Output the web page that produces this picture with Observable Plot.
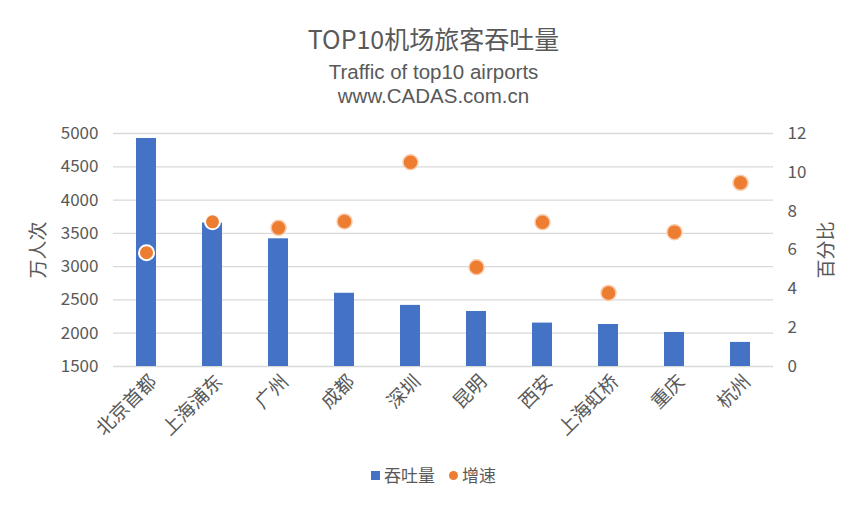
<!DOCTYPE html>
<html><head><meta charset="utf-8">
<script src="https://cdn.jsdelivr.net/npm/d3@7"></script>
<script src="https://cdn.jsdelivr.net/npm/@observablehq/plot@0.6"></script>
<style>
body{margin:0;background:#fff;font-family:"Noto Sans CJK SC","Noto Sans",sans-serif;color:#595959}
#wrap{position:relative;width:867px;height:507px;overflow:hidden}
.t{position:absolute;left:0;width:867px;text-align:center;white-space:nowrap}
#chart,#chart2{position:absolute;left:0;top:110px}
#legend{position:absolute;left:0;top:462px;width:867px;text-align:center;font-size:17px;color:#595959}
.sw{display:inline-block;width:9px;height:9px;margin-right:4px;vertical-align:middle;position:relative;top:-2px}
</style></head>
<body><div id="wrap">
<div class="t" style="top:21px;font-size:25px;line-height:34px">TOP10机场旅客吞吐量</div>
<div class="t" style="top:59px;font-size:20.5px;line-height:26px;font-family:'Liberation Sans','DejaVu Sans',sans-serif">Traffic of top10 airports</div>
<div class="t" style="top:83px;font-size:20.5px;line-height:26px;font-family:'Liberation Sans','DejaVu Sans',sans-serif">www.CADAS.com.cn</div>
<div id="chart"></div><div id="chart2"></div>
<div id="legend"><span class="sw" style="background:#4472C4"></span>吞吐量<span style="display:inline-block;width:14px"></span><span class="sw" style="background:#ED7D31;border-radius:50%"></span>增速</div>
</div>
<script>
const airports = ["北京首都","上海浦东","广州","成都","深圳","昆明","西安","上海虹桥","重庆","杭州"];
const traffic = [4925, 3655, 3418, 2600, 2418, 2326, 2152, 2131, 2011, 1862];
const growth = [5.86, 7.45, 7.14, 7.47, 10.52, 5.11, 7.43, 3.79, 6.92, 9.46];
const leftTicks = [1500,2000,2500,3000,3500,4000,4500,5000];
const rightTicks = [0,2,4,6,8,10,12];

const data = airports.map((a,i)=>({airport:a, traffic:traffic[i], growth:growth[i], first:i<2}));
const W=867,H=340,mt=23,mb=84,ml=113,mr=94;
const font = '"Noto Sans CJK SC","Noto Sans",sans-serif';

const p1 = Plot.plot({
  width:W,height:H,marginTop:mt,marginBottom:mb,marginLeft:ml,marginRight:mr,
  style:{fontFamily:font,fontSize:"17px",color:"#595959",background:"transparent",overflow:"visible"},
  x:{domain:airports,paddingInner:0.7,paddingOuter:0.35},
  y:{domain:[1500,5000]},
  marks:[
    Plot.ruleY(leftTicks,{stroke:"#d9d9d9",strokeWidth:1.3}),
    Plot.barY(data,{x:"airport",y:"traffic",fill:"#4472C4",clip:true}),
    Plot.axisY({ticks:leftTicks,tickFormat:"d",tickSize:0,tickPadding:15,label:null,fill:"#595959",fontSize:17}),
    Plot.axisX({tickSize:0,tickRotate:-45,tickPadding:10,label:null,fill:"#595959",dx:7,dy:2,fontSize:19}),
    Plot.text(["万人次"],{frameAnchor:"left",textAnchor:"middle",dx:-75,rotate:-90,fontSize:19,fill:"#595959"})
  ]
});
document.getElementById("chart").append(p1);

const p2 = Plot.plot({
  width:W,height:H,marginTop:mt,marginBottom:mb,marginLeft:ml,marginRight:mr,
  style:{fontFamily:font,fontSize:"17px",color:"#595959",background:"transparent",overflow:"visible"},
  x:{domain:airports,paddingInner:0.7,paddingOuter:0.35,axis:null},
  y:{domain:[0,12]},
  marks:[
    Plot.dot(data,{x:"airport",y:"growth",r:7.5,fill:"#ED7D31",stroke:d=>d.first?"#ffffff":"#f8cbad",strokeWidth:d=>d.first?2:1.5}),
    Plot.axisY({anchor:"right",ticks:rightTicks,tickSize:0,tickPadding:14,label:null,fill:"#595959",fontSize:17}),
    Plot.text(["百分比"],{frameAnchor:"right",textAnchor:"middle",dx:53,rotate:-90,fontSize:19,fill:"#595959"})
  ]
});
document.getElementById("chart2").append(p2);
</script>
</body></html>
